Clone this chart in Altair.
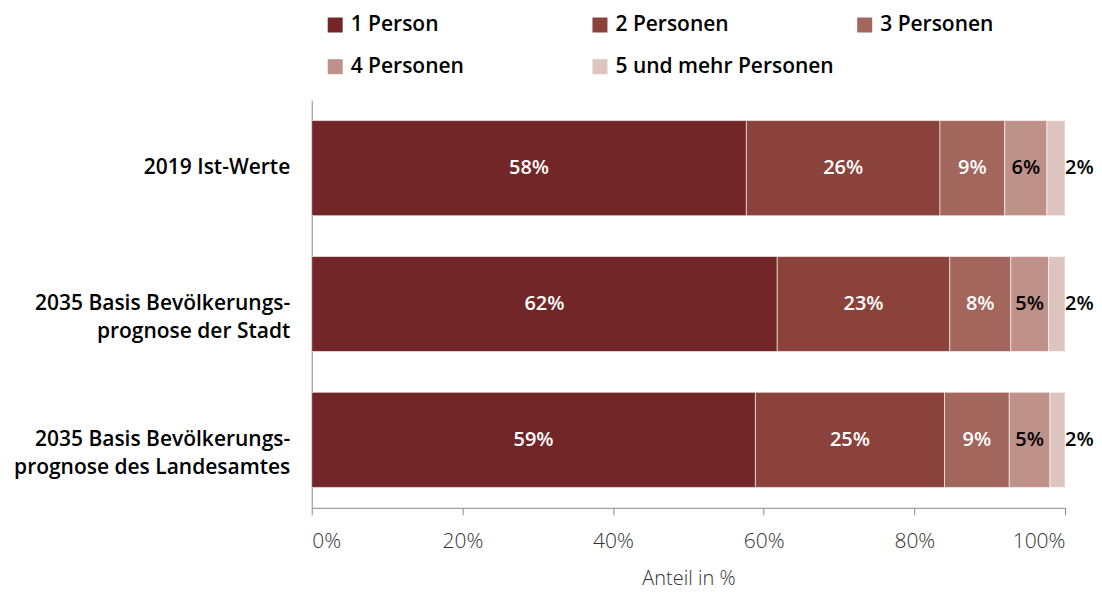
import altair as alt
import pandas as pd

groups = [
    "2019 Ist-Werte",
    "2035 Basis Bevölkerungs-|prognose der Stadt",
    "2035 Basis Bevölkerungs-|prognose des Landesamtes",
]
series = ["1 Person", "2 Personen", "3 Personen", "4 Personen", "5 und mehr Personen"]
v_2019 = [57.7, 25.7, 8.6, 5.6, 2.4]
v_stadt = [61.8, 22.9, 8.1, 5.0, 2.2]
v_land = [58.9, 25.1, 8.6, 5.4, 2.0]
colors = ["#722628", "#8b423b", "#a2665c", "#be9189", "#dec4bf"]

rows = []
for g, vals in zip(groups, [v_2019, v_stadt, v_land]):
    for i, (s, v) in enumerate(zip(series, vals)):
        rows.append({"gruppe": g, "serie": s, "ord": i, "wert": v / 100})
df = pd.DataFrame(rows)

FONT = "Open Sans"

base = (
    alt.Chart(df)
    .transform_window(
        cum="sum(wert)", groupby=["gruppe"], sort=[alt.SortField("ord")], frame=[None, 0]
    )
    .transform_calculate(
        start="datum.cum - datum.wert",
        lx="datum.ord == 4 ? datum.cum + 0.019 : datum.cum - datum.wert / 2",
    )
)

y_enc = alt.Y(
    "gruppe:N",
    sort=groups,
    title=None,
    scale=alt.Scale(paddingInner=0.3, paddingOuter=0.15),
    axis=alt.Axis(
        labelExpr="split(datum.label, '|')",
        labelFontSize=21,
        labelFontWeight=600,
        labelColor="#000",
        ticks=False,
        labelPadding=22,
        domainColor="#888",
        labelLimit=400,
        labelLineHeight=28,
    ),
)

bars = base.mark_bar(stroke="white", strokeWidth=0.6).encode(
    x=alt.X(
        "start:Q",
        scale=alt.Scale(domain=[0, 1], nice=False),
        title="Anteil in %",
        axis=alt.Axis(
            format="%",
            values=[0, 0.2, 0.4, 0.6, 0.8, 1.0],
            grid=False,
            labelFontSize=21,
            labelColor="#333",
            labelFontWeight=300,
            tickSize=7,
            tickColor="#888",
            domainColor="#888",
            labelPadding=16,
            titleFontSize=20,
            titleFontWeight=300,
            titleColor="#333",
            titlePadding=17,
        ),
    ),
    x2="cum:Q",
    y=y_enc,
    color=alt.Color(
        "serie:N",
        sort=series,
        scale=alt.Scale(domain=series, range=colors),
        legend=alt.Legend(
            title=None,
            orient="none",
            legendX=13,
            legendY=-86,
            columns=3,
            direction="horizontal",
            gridAlign="all",
            columnPadding=20,
            rowPadding=20,
            symbolType="square",
            symbolSize=225,
            symbolStrokeWidth=0,
            symbolOpacity=1,
            labelFontSize=21,
            labelFontWeight=600,
            labelColor="#000",
            labelLimit=400,
            labelOffset=5,
        ),
    ),
)

labels = base.mark_text(fontSize=20, fontWeight=600, baseline="middle", align="center").encode(
    x=alt.X("lx:Q"),
    y=alt.Y("gruppe:N", sort=groups),
    text=alt.Text("wert:Q", format=".0%"),
    color=alt.condition(alt.datum.ord < 3, alt.value("white"), alt.value("black")),
)

chart = (
    alt.layer(bars, labels)
    .properties(width=754, height=408, padding={"left": 5, "top": 6, "right": 0, "bottom": 1})
    .configure(font=FONT)
    .configure_view(stroke=None)
)

chart.save("out.html", embed_options={"renderer": "svg", "actions": False})
